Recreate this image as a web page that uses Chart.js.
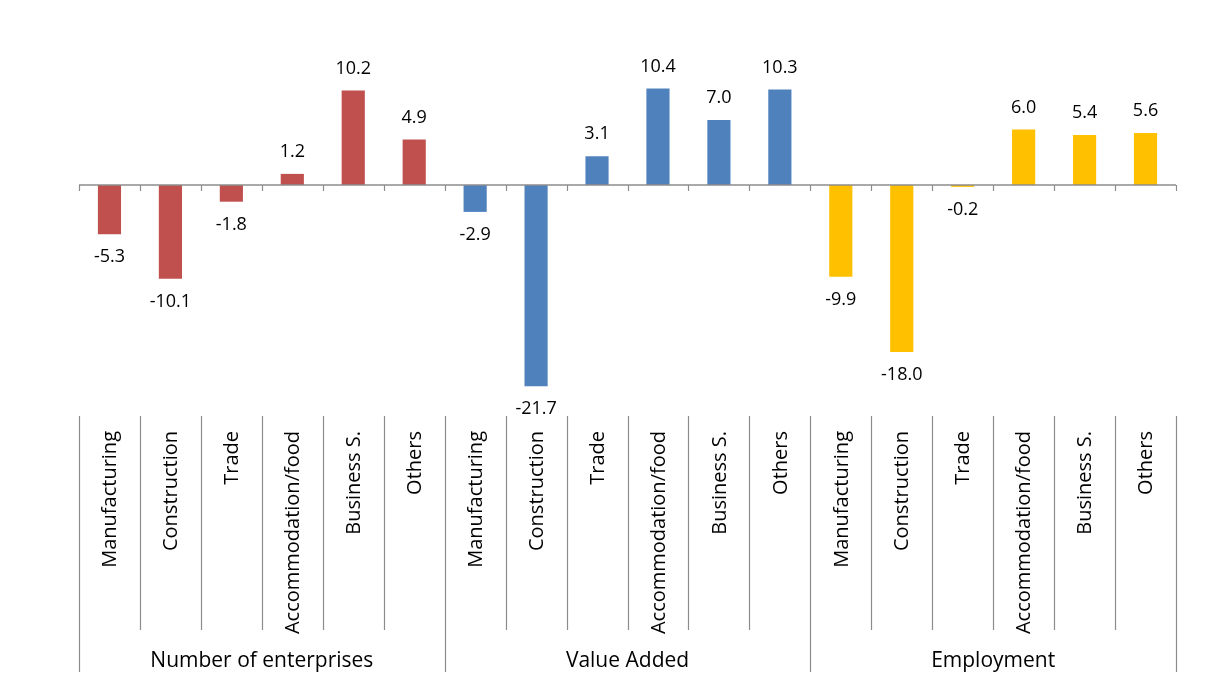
<!DOCTYPE html>
<html>
<head>
<meta charset="utf-8">
<script src="https://cdn.jsdelivr.net/npm/chart.js@4.4.1/dist/chart.umd.min.js"></script>
<style>
html,body{margin:0;padding:0;background:#fff;}
#wrap{width:1214px;height:687px;position:relative;}
</style>
</head>
<body>
<div id="wrap"><canvas id="c" width="1214" height="687"></canvas></div>
<script>
// ---- data ----
const groups = ['Number of enterprises', 'Value Added', 'Employment'];
const sectors = ['Manufacturing', 'Construction', 'Trade', 'Accommodation/food', 'Business S.', 'Others'];
const enterprises = [-5.3, -10.1, -1.8, 1.2, 10.2, 4.9];
const valueAdded = [-2.9, -21.7, 3.1, 10.4, 7.0, 10.3];
const employment = [-9.9, -18.0, -0.2, 6.0, 5.4, 5.6];
const groupColors = ['#C0504D', '#4F81BD', '#FFC000'];

const seriesByGroup = [enterprises, valueAdded, employment];
const labels = [];
const values = [];
const colors = [];
groups.forEach((g, gi) => {
  sectors.forEach((s, si) => {
    labels.push(s);
    values.push(seriesByGroup[gi][si]);
    colors.push(groupColors[gi]);
  });
});

const FONT = '"Open Sans", "Noto Sans", sans-serif';
const LINE = '#8c8c8c';
const TEXT = '#000000';

const decor = {
  id: 'decor',
  afterDatasetsDraw(chart) {
    const ctx = chart.ctx;
    const x = chart.scales.x;
    const y = chart.scales.y;
    const ca = chart.chartArea;
    const n = labels.length;
    const step = (x.getPixelForValue(1) - x.getPixelForValue(0));
    const y0 = y.getPixelForValue(0);
    ctx.save();
    // zero line
    ctx.strokeStyle = LINE;
    ctx.lineWidth = 1.5;
    ctx.beginPath();
    ctx.moveTo(ca.left, y0);
    ctx.lineTo(ca.right, y0);
    ctx.stroke();
    // boundaries
    ctx.lineWidth = 1.2;
    for (let i = 0; i <= n; i++) {
      const bx = Math.round(x.getPixelForValue(i) - step / 2) + 0.5;
      ctx.beginPath();
      ctx.moveTo(bx, y0);
      ctx.lineTo(bx, y0 + 6);
      ctx.stroke();
      const isGroup = (i % sectors.length === 0);
      ctx.beginPath();
      ctx.moveTo(bx, ca.bottom + 6);
      ctx.lineTo(bx, isGroup ? ca.bottom + 262 : ca.bottom + 220);
      ctx.stroke();
    }
    // value labels
    const meta = chart.getDatasetMeta(0);
    ctx.fillStyle = TEXT;
    ctx.font = '18px ' + FONT;
    ctx.textAlign = 'center';
    ctx.textBaseline = 'middle';
    meta.data.forEach((bar, i) => {
      const v = values[i];
      const ty = v >= 0 ? bar.y - 22 : bar.y + 23;
      ctx.fillText(v.toFixed(1), bar.x, ty);
    });
    // category labels (rotated)
    ctx.font = '20px ' + FONT;
    ctx.textAlign = 'right';
    ctx.textBaseline = 'middle';
    labels.forEach((l, i) => {
      const cx = x.getPixelForValue(i);
      ctx.save();
      ctx.translate(cx + 1, ca.bottom + 21);
      ctx.rotate(-Math.PI / 2);
      ctx.fillText(l, 0, 0);
      ctx.restore();
    });
    // group labels
    ctx.font = '21px ' + FONT;
    ctx.textAlign = 'center';
    groups.forEach((g, gi) => {
      const a = x.getPixelForValue(gi * sectors.length) - step / 2;
      const b = x.getPixelForValue((gi + 1) * sectors.length - 1) + step / 2;
      ctx.fillText(g, (a + b) / 2, ca.bottom + 251);
    });
    ctx.restore();
  }
};

new Chart(document.getElementById('c'), {
  type: 'bar',
  data: {
    labels: labels,
    datasets: [{
      data: values,
      backgroundColor: colors,
      borderWidth: 0,
      categoryPercentage: 1,
      barPercentage: 0.38
    }]
  },
  options: {
    responsive: false,
    animation: false,
    devicePixelRatio: 1,
    layout: { padding: { left: 79, right: 38, top: 20, bottom: 277 } },
    plugins: { legend: { display: false }, tooltip: { enabled: false } },
    scales: {
      x: { display: false, offset: true },
      y: { display: false, min: -24.27, max: 17.8 }
    }
  },
  plugins: [decor]
});
</script>
</body>
</html>
